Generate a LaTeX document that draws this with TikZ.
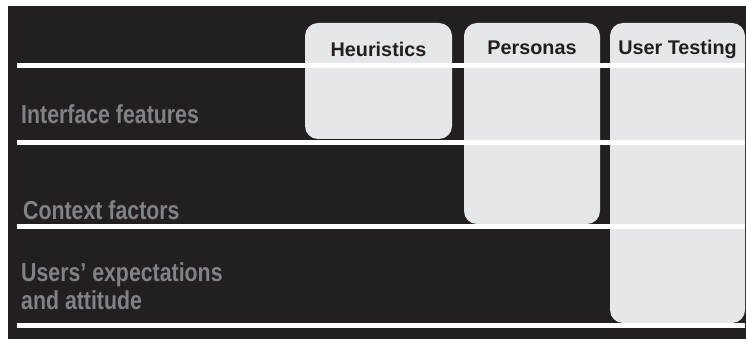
\documentclass[tikz,border=0pt]{standalone}
\usepackage{fontspec}
\setmainfont{Liberation Sans}
\newfontfamily\narrowfont[FakeStretch=0.82]{Liberation Sans}
\usepackage{tikz}
\usetikzlibrary{positioning,calc}
\definecolor{bgdark}{HTML}{231F20}
\definecolor{lanegray}{HTML}{E6E7E8}
\definecolor{rowgray}{HTML}{808285}

\begin{document}
\begin{tikzpicture}[
  x=1pt,y=-1pt,
  lane/.style={rectangle,rounded corners=13pt,fill=lanegray,inner sep=0pt,outer sep=0pt},
  lanetitle/.style={anchor=base,inner sep=0pt,text=bgdark,font=\fontsize{19.8}{23}\selectfont\bfseries},
  rowlabel/.style={anchor=base west,inner sep=0pt,text=rowgray,align=left,font=\fontsize{26}{27.5}\selectfont\narrowfont\bfseries},
  divider/.style={draw=white,line width=5pt},
]
\useasboundingbox (0,0) rectangle (746,339);

% Background
\fill[bgdark] (8,6) rectangle (746,339);

% Method lanes
\node[lane,minimum width=147pt,minimum height=116pt] (heuristics) at (378.5,81) {};
\node[lane,minimum width=136pt,minimum height=201pt] (personas) at (532,123.5) {};
\node[lane,minimum width=135pt,minimum height=300pt] (usertest) at (677.5,173) {};

\node[lanetitle] (t_heuristics) at ([yshift=-34pt]heuristics.north) {Heuristics};
\node[lanetitle] (t_personas) at ([yshift=-32pt]personas.north) {Personas};
\node[lanetitle] (t_usertest) at ([yshift=-32pt]usertest.north) {User Testing};

% Row dividers
\foreach \y in {65.5,142.5,226,325}
  \draw[divider] (16.7,\y) -- (745,\y);

% Row labels
\node[rowlabel] (r_interface) at (21,124) {Interface features};
\node[rowlabel] (r_context) at (23,219) {Context factors};
\node[rowlabel] (r_users) at (21,309) {Users’ expectations\\and attitude};

\end{tikzpicture}
\end{document}
